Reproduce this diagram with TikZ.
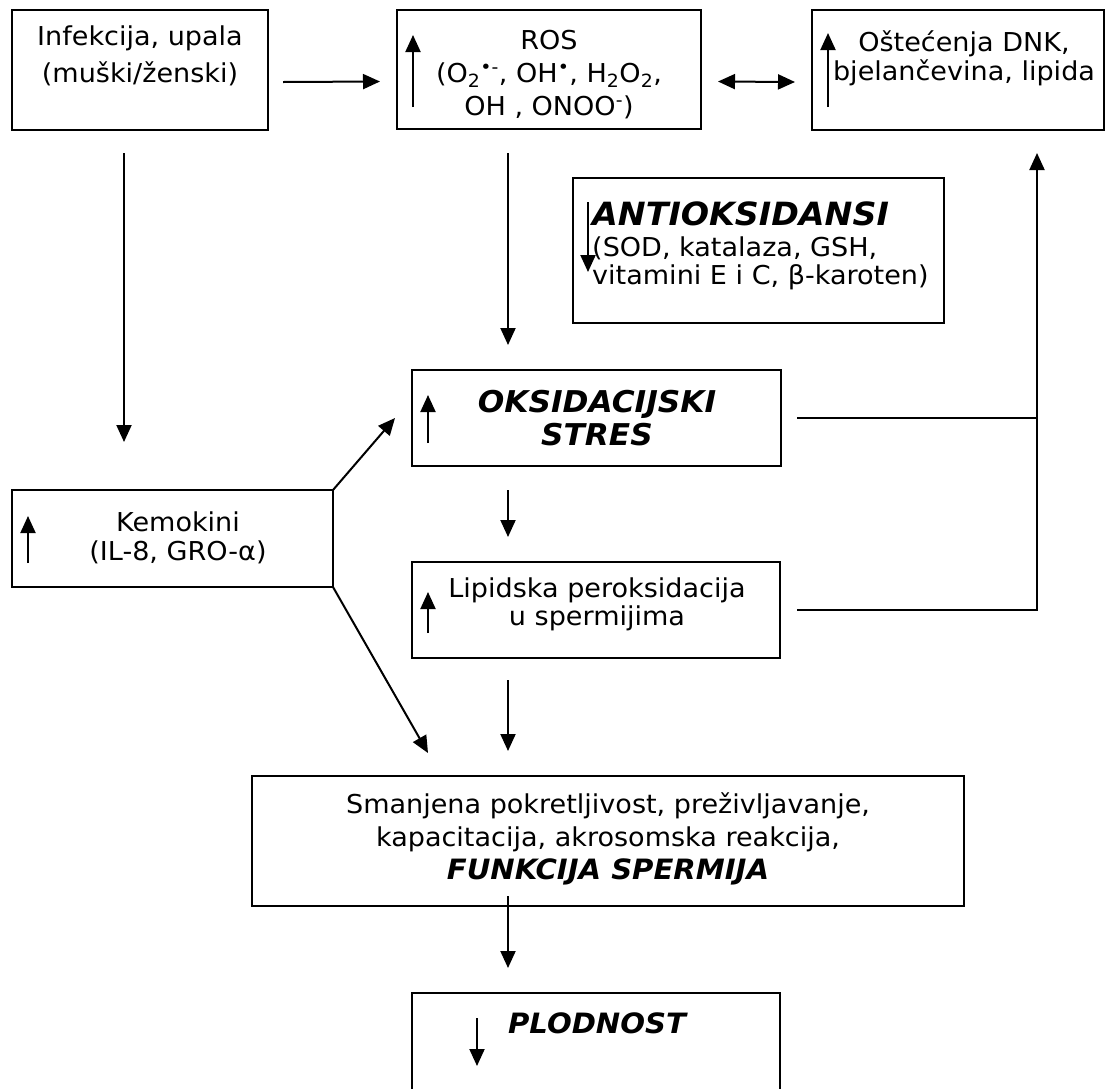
\documentclass[tikz,border=0pt]{standalone}
\usepackage{fontspec}
\setmainfont[FakeStretch=1.04]{DejaVu Sans}
\usepackage{tikz}
\usetikzlibrary{arrows.meta}

\begin{document}
\begin{tikzpicture}[x=1pt,y=-1pt]
	\tikzstyle{box} = [draw=black, line width=2pt, rectangle, inner sep=0pt, outer sep=0pt]
	\tikzstyle{txt} = [align=center, inner sep=0pt, font=\fontsize{26}{32}\selectfont]
	\tikzstyle{hd} = [txt, font=\fontsize{30}{33}\selectfont\bfseries\itshape]
	\tikzstyle{line} = [draw=black, line width=2pt]
	\tikzstyle{arr} = [line, -{Triangle[length=17pt,width=15pt]}]
	\tikzstyle{dbl} = [line, {Triangle[length=17pt,width=15pt]}-{Triangle[length=17pt,width=15pt]}]
	\useasboundingbox (0,0) rectangle (1107,1088);
	\clip (0,0) rectangle (1107,1088);
		\node[box, minimum width=256pt, minimum height=120pt] (infb) at (140,70) {};
		\node[box, minimum width=304pt, minimum height=119pt] (rosb) at (549,69.5) {};
		\node[box, minimum width=292pt, minimum height=120pt] (ostb) at (958,70) {};
		\node[box, minimum width=371pt, minimum height=145pt] (antib) at (758.5,250.5) {};
		\node[box, minimum width=369pt, minimum height=96pt] (oksb) at (596.5,418) {};
		\node[box, minimum width=321pt, minimum height=97pt] (kemb) at (172.5,538.5) {};
		\node[box, minimum width=368pt, minimum height=96pt] (lipb) at (596,610) {};
		\node[box, minimum width=712pt, minimum height=130pt] (smab) at (608,841) {};
		\node[box, minimum width=368pt, minimum height=107pt] (plodb) at (596,1046.5) {};

		\node[txt, font=\fontsize{26}{37}\selectfont] (inf) at (140,56) {Infekcija, upala\\(muški/ženski)};
		\node[txt, font=\fontsize{26}{33}\selectfont] (ros) at (549,75) {ROS\\(O\textsubscript{2}\textsuperscript{•-}, OH\textsuperscript{•}, H\textsubscript{2}O\textsubscript{2},\\OH , ONOO\textsuperscript{-})};
		\node[txt, font=\fontsize{26}{29}\selectfont] (ost) at (964,58) {Oštećenja DNK,\\bjelančevina, lipida};
		\node[txt, align=left, anchor=west, font=\fontsize{26}{28}\selectfont] (anti) at (592,246) {{\fontsize{32}{34}\selectfont\bfseries\itshape ANTIOKSIDANSI}\\[3pt](SOD, katalaza, GSH,\\vitamini E i C, β-karoten)};
		\node[hd] (oks) at (597,418) {OKSIDACIJSKI\\STRES};
		\node[txt, font=\fontsize{26}{29}\selectfont] (kem) at (178,538) {Kemokini\\(IL-8, GRO-α)};
		\node[txt, font=\fontsize{26}{28}\selectfont] (lip) at (597,604) {Lipidska peroksidacija\\u spermijima};
		\node[txt, font=\fontsize{26}{33}\selectfont] (sma) at (608,839) {Smanjena pokretljivost, preživljavanje,\\kapacitacija, akrosomska reakcija,\\{\fontsize{28}{33}\selectfont\bfseries\itshape FUNKCIJA SPERMIJA}};
		\node[hd, font=\fontsize{28}{33}\selectfont\bfseries\itshape] (plod) at (597,1023) {PLODNOST};

		\draw[arr] ([xshift=15pt,yshift=-12pt]infb.east) -- ([xshift=-17pt,yshift=-12pt]rosb.west);
		\draw[dbl] ([xshift=17pt,yshift=-12pt]rosb.east) -- ([xshift=-17pt,yshift=-12pt]ostb.west);
		\draw[arr] ([xshift=-16pt,yshift=-23pt]infb.south) -- ([xshift=-48.5pt,yshift=48pt]kemb.north);
		\draw[arr] ([xshift=-41pt,yshift=-24pt]rosb.south) -- ([xshift=-88.5pt,yshift=25pt]oksb.north);
		\draw[arr] (kemb.north east) -- ([xshift=-17pt]oksb.west);
		\draw[arr] (kemb.south east) -- ([xshift=-180pt,yshift=23pt]smab.north);
		\draw[arr] ([xshift=-88.5pt,yshift=-24pt]oksb.south) -- ([xshift=-88pt,yshift=25pt]lipb.north);
		\draw[arr] ([xshift=-88pt,yshift=-22pt]lipb.south) -- ([xshift=-100pt,yshift=25pt]smab.north);
		\draw[arr] ([xshift=-100pt,yshift=10pt]smab.south) -- ([xshift=-88pt,yshift=25pt]plodb.north);

		\coordinate (rt) at (1037,610);
		\draw[line] ([xshift=16pt]oksb.east) -- (oksb.east -| rt);
		\draw[arr] ([xshift=17pt]lipb.east) -- (rt) -- ([xshift=79pt,yshift=-23pt]ostb.south);

		\foreach \x/\ya/\yb in {413/107/35, 828/107/33, 428/443/395, 28/563/516, 428/633/592, 588/202/272, 477/1018/1066}
			\draw[arr] (\x,\ya) -- (\x,\yb);
\end{tikzpicture}
\end{document}
